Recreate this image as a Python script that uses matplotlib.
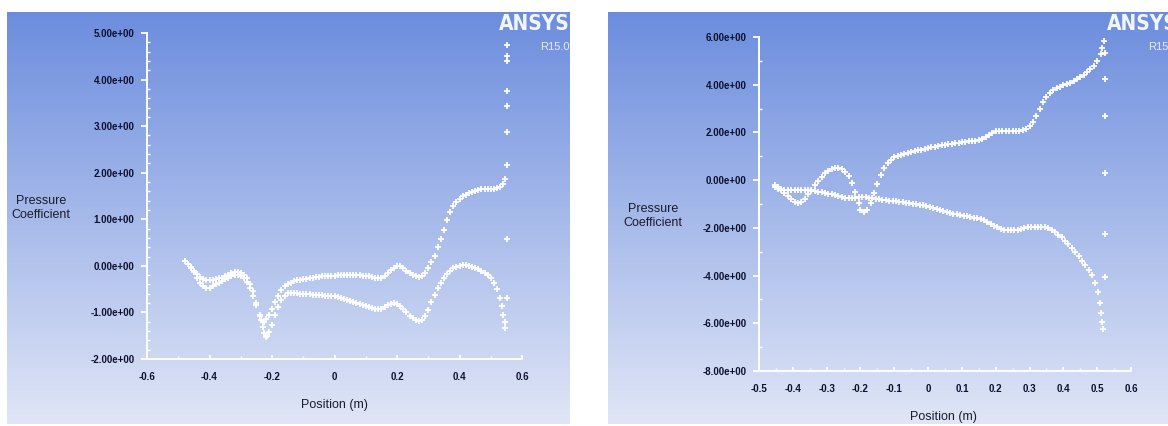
# Pressure coefficient along the chord, two ANSYS R15.0 style plots side by side.
import numpy as np
import matplotlib
matplotlib.use('Agg')
import matplotlib.pyplot as plt
from matplotlib import font_manager
from matplotlib.ticker import MultipleLocator, FuncFormatter

# DATA.

# Left plot, first surface.
left_a_x = [-0.478, -0.47, -0.46, -0.45, -0.44, -0.43, -0.42, -0.41, -0.40, -0.39, -0.38, -0.37,
            -0.36, -0.35, -0.34, -0.33, -0.32, -0.31, -0.30, -0.29, -0.28, -0.27, -0.26, -0.25,
            -0.24, -0.235, -0.23, -0.225, -0.22, -0.21, -0.20, -0.19, -0.18, -0.17, -0.16, -0.15,
            -0.14, -0.13, -0.12, -0.11, -0.10, -0.09, -0.08, -0.07, -0.06, -0.05, -0.04, -0.03,
            -0.02, -0.01, 0.0, 0.01, 0.02, 0.03, 0.04, 0.05, 0.06, 0.07, 0.08, 0.09, 0.10, 0.11,
            0.12, 0.13, 0.14, 0.15, 0.16, 0.17, 0.18, 0.19, 0.20, 0.21, 0.22, 0.23, 0.24, 0.25,
            0.26, 0.27, 0.28, 0.29, 0.30, 0.31, 0.32, 0.33, 0.34, 0.35, 0.36, 0.37, 0.38, 0.39,
            0.40, 0.41, 0.42, 0.43, 0.44, 0.45, 0.46, 0.47, 0.48, 0.49, 0.50, 0.51, 0.52, 0.53,
            0.54, 0.547]
left_a_y = [0.10, 0.05, -0.02, -0.10, -0.18, -0.24, -0.28, -0.30, -0.31, -0.30, -0.29, -0.27,
            -0.25, -0.22, -0.19, -0.16, -0.14, -0.14, -0.16, -0.20, -0.27, -0.38, -0.55, -0.80,
            -1.05, -1.17, -1.21, -1.20, -1.15, -1.05, -0.92, -0.78, -0.64, -0.52, -0.44, -0.40,
            -0.36, -0.33, -0.31, -0.30, -0.29, -0.28, -0.27, -0.25, -0.24, -0.23, -0.22, -0.22,
            -0.21, -0.21, -0.21, -0.20, -0.19, -0.19, -0.19, -0.19, -0.19, -0.20, -0.20, -0.21,
            -0.21, -0.22, -0.23, -0.25, -0.27, -0.26, -0.21, -0.15, -0.09, -0.04, -0.01, 0.00,
            -0.04, -0.10, -0.16, -0.20, -0.22, -0.23, -0.21, -0.15, -0.05, 0.08, 0.22, 0.40,
            0.58, 0.78, 0.98, 1.15, 1.28, 1.37, 1.44, 1.49, 1.53, 1.56, 1.59, 1.61, 1.63, 1.64,
            1.65, 1.65, 1.66, 1.66, 1.67, 1.70, 1.76, 1.87]

# Left plot, second surface.
left_b_x = [-0.478, -0.47, -0.46, -0.45, -0.44, -0.43, -0.42, -0.41, -0.40, -0.39, -0.38, -0.37,
            -0.36, -0.35, -0.34, -0.33, -0.32, -0.31, -0.30, -0.29, -0.28, -0.27, -0.26, -0.25,
            -0.24, -0.23, -0.225, -0.22, -0.215, -0.21, -0.20, -0.19, -0.18, -0.17, -0.16, -0.15,
            -0.14, -0.13, -0.12, -0.11, -0.10, -0.09, -0.08, -0.07, -0.06, -0.05, -0.04, -0.03,
            -0.02, -0.01, 0.0, 0.01, 0.02, 0.03, 0.04, 0.05, 0.06, 0.07, 0.08, 0.09, 0.10, 0.11,
            0.12, 0.13, 0.14, 0.15, 0.16, 0.17, 0.18, 0.19, 0.20, 0.21, 0.22, 0.23, 0.24, 0.25,
            0.26, 0.27, 0.28, 0.29, 0.30, 0.31, 0.32, 0.33, 0.34, 0.35, 0.36, 0.37, 0.38, 0.39,
            0.40, 0.41, 0.42, 0.43, 0.44, 0.45, 0.46, 0.47, 0.48, 0.49, 0.50, 0.51, 0.52, 0.53,
            0.535, 0.54, 0.545, 0.547]
left_b_y = [0.10, 0.04, -0.04, -0.14, -0.26, -0.36, -0.44, -0.48, -0.47, -0.44, -0.40, -0.36,
            -0.32, -0.28, -0.25, -0.22, -0.20, -0.20, -0.22, -0.27, -0.35, -0.47, -0.64, -0.85,
            -1.08, -1.32, -1.44, -1.52, -1.50, -1.42, -1.26, -1.06, -0.88, -0.74, -0.64, -0.59,
            -0.58, -0.58, -0.59, -0.60, -0.60, -0.61, -0.61, -0.62, -0.62, -0.63, -0.63, -0.64,
            -0.64, -0.65, -0.65, -0.67, -0.69, -0.71, -0.73, -0.75, -0.77, -0.79, -0.82, -0.85,
            -0.87, -0.89, -0.91, -0.92, -0.93, -0.92, -0.89, -0.85, -0.81, -0.80, -0.81, -0.86,
            -0.93, -1.00, -1.07, -1.13, -1.17, -1.19, -1.16, -1.08, -0.95, -0.78, -0.62, -0.48,
            -0.36, -0.26, -0.17, -0.10, -0.05, -0.02, 0.00, 0.01, 0.01, 0.00, -0.02, -0.04,
            -0.07, -0.11, -0.15, -0.20, -0.27, -0.36, -0.50, -0.68, -0.87, -1.05, -1.20, -1.33]

# Left plot, trailing edge points.
left_te_x = [0.553, 0.553, 0.553, 0.553, 0.553, 0.553, 0.553, 0.553, 0.553]
left_te_y = [4.75, 4.50, 4.39, 3.75, 3.44, 2.87, 2.16, 0.58, -0.70]

# Right plot, first surface.
right_c_x = [-0.454, -0.445, -0.435, -0.425, -0.415, -0.405, -0.395, -0.385, -0.375, -0.365,
             -0.355, -0.345, -0.335, -0.325, -0.315, -0.305, -0.295, -0.285, -0.275, -0.265,
             -0.255, -0.245, -0.235, -0.225, -0.215, -0.205, -0.20, -0.19, -0.18, -0.17, -0.16,
             -0.15, -0.14, -0.13, -0.12, -0.11, -0.10, -0.09, -0.08, -0.07, -0.06, -0.05, -0.04,
             -0.03, -0.02, -0.01, 0.0, 0.01, 0.02, 0.03, 0.04, 0.05, 0.06, 0.07, 0.08, 0.09, 0.10,
             0.11, 0.12, 0.13, 0.14, 0.15, 0.16, 0.17, 0.18, 0.19, 0.20, 0.21, 0.22, 0.23, 0.24,
             0.25, 0.26, 0.27, 0.28, 0.29, 0.30, 0.31, 0.32, 0.33, 0.34, 0.35, 0.36, 0.37, 0.38,
             0.39, 0.40, 0.41, 0.42, 0.43, 0.44, 0.45, 0.46, 0.47, 0.48, 0.49, 0.50, 0.51, 0.515,
             0.52]
right_c_y = [-0.21, -0.30, -0.40, -0.52, -0.65, -0.80, -0.92, -0.97, -0.92, -0.78, -0.60, -0.40,
             -0.20, -0.02, 0.15, 0.28, 0.38, 0.45, 0.49, 0.50, 0.46, 0.36, 0.18, -0.10, -0.50,
             -0.95, -1.25, -1.32, -1.25, -0.95, -0.55, -0.15, 0.20, 0.50, 0.72, 0.86, 0.95, 1.01,
             1.05, 1.09, 1.13, 1.17, 1.21, 1.25, 1.28, 1.31, 1.34, 1.37, 1.40, 1.44, 1.47, 1.49,
             1.51, 1.53, 1.55, 1.57, 1.59, 1.61, 1.63, 1.64, 1.66, 1.68, 1.72, 1.80, 1.90, 1.99,
             2.04, 2.06, 2.07, 2.07, 2.07, 2.07, 2.07, 2.08, 2.10, 2.15, 2.25, 2.42, 2.68, 2.98,
             3.27, 3.50, 3.66, 3.77, 3.85, 3.92, 3.98, 4.03, 4.09, 4.16, 4.24, 4.32, 4.42, 4.52,
             4.65, 4.80, 5.00, 5.30, 5.55, 5.82]

# Right plot, second surface.
right_d_x = [-0.454, -0.445, -0.435, -0.425, -0.415, -0.405, -0.395, -0.385, -0.375, -0.365,
             -0.355, -0.345, -0.335, -0.325, -0.315, -0.305, -0.295, -0.285, -0.275, -0.265,
             -0.255, -0.245, -0.235, -0.225, -0.215, -0.205, -0.195, -0.185, -0.175, -0.165,
             -0.155, -0.145, -0.135, -0.125, -0.115, -0.105, -0.095, -0.085, -0.075, -0.065,
             -0.055, -0.045, -0.035, -0.025, -0.015, -0.005, 0.005, 0.015, 0.025, 0.035, 0.045,
             0.055, 0.065, 0.075, 0.085, 0.095, 0.105, 0.115, 0.125, 0.135, 0.145, 0.155, 0.165,
             0.175, 0.185, 0.195, 0.205, 0.215, 0.225, 0.235, 0.245, 0.255, 0.265, 0.275, 0.285,
             0.295, 0.305, 0.315, 0.325, 0.335, 0.345, 0.355, 0.365, 0.375, 0.385, 0.395, 0.405,
             0.415, 0.425, 0.435, 0.445, 0.455, 0.465, 0.475, 0.485, 0.495, 0.502, 0.508, 0.512,
             0.515, 0.518]
right_d_y = [-0.30, -0.36, -0.39, -0.40, -0.40, -0.40, -0.40, -0.40, -0.40, -0.41, -0.42, -0.44,
             -0.46, -0.48, -0.50, -0.53, -0.56, -0.60, -0.64, -0.68, -0.72, -0.74, -0.74, -0.74,
             -0.73, -0.72, -0.72, -0.72, -0.74, -0.76, -0.78, -0.80, -0.82, -0.84, -0.86, -0.88,
             -0.89, -0.91, -0.93, -0.95, -0.97, -0.99, -1.01, -1.03, -1.05, -1.08, -1.12, -1.16,
             -1.21, -1.26, -1.30, -1.34, -1.38, -1.41, -1.44, -1.47, -1.49, -1.51, -1.54, -1.57,
             -1.60, -1.63, -1.69, -1.76, -1.83, -1.91, -1.98, -2.04, -2.08, -2.10, -2.10, -2.10,
             -2.08, -2.05, -2.01, -1.97, -1.95, -1.95, -1.95, -1.95, -1.97, -2.02, -2.09, -2.17,
             -2.28, -2.40, -2.53, -2.67, -2.83, -3.01, -3.19, -3.38, -3.56, -3.76, -3.98, -4.30,
             -4.70, -5.15, -5.55, -5.95, -6.22]

# Right plot, trailing edge points.
right_te_x = [0.522, 0.522, 0.522, 0.522, 0.522, 0.522]
right_te_y = [5.33, 4.25, 2.67, 0.31, -2.24, -4.06]

left_xticks = [-0.6, -0.4, -0.2, 0.0, 0.2, 0.4, 0.6]
left_yticks = [-2, -1, 0, 1, 2, 3, 4, 5]
right_xticks = [-0.5, -0.4, -0.3, -0.2, -0.1, 0.0, 0.1, 0.2, 0.3, 0.4, 0.5, 0.6]
right_yticks = [-8, -6, -4, -2, 0, 2, 4, 6]


# Pick installed fonts.
fonts = font_manager.fontManager.ttflist
names = {f.name for f in fonts}


def pick(*wanted):
    for n in wanted:
        if n in names:
            return n
    return 'DejaVu Sans'

plain = pick('Liberation Sans', 'Roboto')
# a condensed face for the logo, if one is around
if 'Liberation Sans Narrow' in names:
    logo_font = dict(family='Liberation Sans Narrow', size=17)
elif any(f.name == 'DejaVu Sans' and f.stretch == 'condensed' and f.weight in (700, 'bold')
         for f in fonts):
    logo_font = dict(family='DejaVu Sans', stretch='condensed', size=15)
else:
    logo_font = dict(family=plain, size=13)

W, H = 1168, 426
fig = plt.figure(figsize=(W / 100, H / 100), dpi=100)
fig.patch.set_facecolor('white')

# Background gradient (top blue, bottom pale).
top = np.array([108, 141, 222]) / 255
bot = np.array([224, 230, 246]) / 255
t = np.linspace(0, 1, 256)[:, None]
grad = (top[None, :] * (1 - t) + bot[None, :] * t)[:, None, :]


def px(x0, y0, x1, y1):
    # pixel box (top-left origin) -> figure fraction rect
    return [x0 / W, 1 - y1 / H, (x1 - x0) / W, (y1 - y0) / H]


for box in [px(7, 12, 570, 424), px(608, 12, 1168, 424)]:
    bg = fig.add_axes(box)
    bg.imshow(grad, aspect='auto', interpolation='bicubic')
    bg.set_axis_off()

ink = '#0e1030'
mk = dict(linestyle='none', marker='+', color='white', markersize=4.5, markeredgewidth=1.3)


def style(ax, xl, yl, xt, yt, ymin_step, xmin_step):
    ax.set_facecolor('none')
    ax.set_xlim(xl)
    ax.set_ylim(yl)
    for s in ['top', 'right']:
        ax.spines[s].set_visible(False)
    for s in ['left', 'bottom']:
        ax.spines[s].set_color('white')
        ax.spines[s].set_linewidth(1.4)
    ax.set_xticks(xt)
    ax.set_yticks(yt)
    ax.yaxis.set_minor_locator(MultipleLocator(ymin_step))
    ax.xaxis.set_minor_locator(MultipleLocator(xmin_step))
    ax.xaxis.set_major_formatter(FuncFormatter(lambda v, p: '0' if abs(v) < 1e-9 else f'{v:g}'))
    ax.yaxis.set_major_formatter(FuncFormatter(lambda v, p: f'{v:.2e}'))
    ax.tick_params(axis='y', which='major', direction='out', length=4, width=1.3,
                   color='white', pad=5, labelsize=7, labelcolor=ink)
    ax.tick_params(axis='y', which='minor', direction='in', length=2.5, width=1,
                   color='white')
    ax.tick_params(axis='x', which='major', direction='in', length=3, width=1.3,
                   color='white', pad=9, labelsize=7, labelcolor=ink)
    ax.tick_params(axis='x', which='minor', direction='in', length=2.5, width=1,
                   color='white')
    for lab in ax.get_xticklabels() + ax.get_yticklabels():
        lab.set_family(plain)
        lab.set_fontweight('bold')


# Left plot.
ax1 = fig.add_axes(px(147, 33, 522, 359))
ax1.plot(left_a_x, left_a_y, **mk)
ax1.plot(left_b_x, left_b_y, **mk)
ax1.plot(left_te_x, left_te_y, **mk)
style(ax1, (-0.6, 0.6), (-2, 5), left_xticks, left_yticks, 0.2, 0.1)

# Right plot.
ax2 = fig.add_axes(px(759, 37, 1131, 371))
ax2.plot(right_c_x, right_c_y, **mk)
ax2.plot(right_d_x, right_d_y, **mk)
ax2.plot(right_te_x, right_te_y, **mk)
style(ax2, (-0.5, 0.6), (-8, 6), right_xticks, right_yticks, 1, 0.05)

# Axis titles.
for (cx, cy) in [(41, 208), (653, 216)]:
    fig.text(cx / W, 1 - cy / H, 'Pressure\nCoefficient', ha='center', va='center',
             fontsize=9, color='#1c1c2c', family=plain, linespacing=1.25)
for (cx, cy) in [(334, 405), (943, 417)]:
    fig.text(cx / W, 1 - cy / H, 'Position (m)', ha='center', va='center',
             fontsize=9, color='#1c1c2c', family=plain)

# ANSYS logo text (cut by the image edge on the right panel, as in the screenshot).
for rx in [570, 1178]:
    fig.text(rx / W, 1 - 24 / H, 'ANSYS', ha='right', va='center', fontweight='bold',
             color='#f4f6ff', **logo_font)
    fig.text(rx / W, 1 - 47 / H, 'R15.0', ha='right', va='center', fontsize=8,
             color='#e6ebf8', family=plain)

fig.savefig('out.png', dpi=100)
